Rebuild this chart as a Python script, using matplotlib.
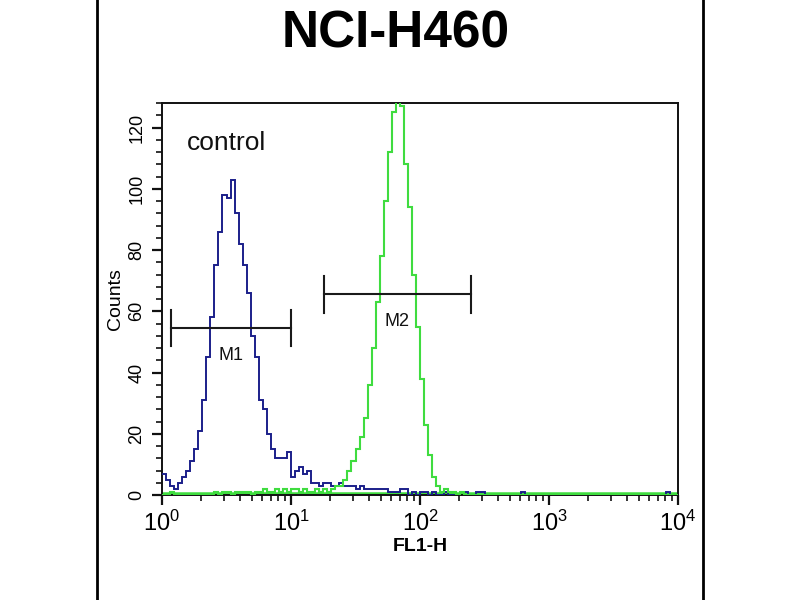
import numpy as np
import matplotlib
matplotlib.use("Agg")
import matplotlib.pyplot as plt
from matplotlib import font_manager
from matplotlib.lines import Line2D
from matplotlib.ticker import MultipleLocator, LogLocator, FixedLocator

# -----------------------
# Datos (histograma, 128 canales en 4 decadas)
# -----------------------
n_channels = 128
decades = 4

control_counts = [
    7, 5, 3, 2, 4, 6, 8, 11, 15, 21, 31, 45, 58, 75, 86, 98,
    97, 103, 92, 82, 75, 66, 52, 45, 31, 28, 20, 15, 12, 12, 12, 14,
    6, 8, 9, 7, 8, 4, 4, 3, 4, 4, 3, 3, 4, 3, 3, 3,
    2, 3, 2, 2, 2, 2, 2, 2, 1, 1, 1, 2, 2, 0, 1, 0,
    1, 1, 0, 1, 0, 0, 1, 0, 0, 0, 1, 1, 0, 0, 1, 1,
    0, 0, 0, 0, 0, 0, 0, 0, 0, 1, 0, 0, 0, 0, 0, 0,
    0, 0, 0, 0, 0, 0, 0, 0, 0, 0, 0, 0, 0, 0, 0, 0,
    0, 0, 0, 0, 0, 0, 0, 0, 0, 0, 0, 0, 0, 1, 0, 0,
]

sample_counts = [
    0, 0, 1, 0, 0, 0, 0, 0, 0, 0, 0, 0, 0, 1, 0, 1,
    1, 0, 1, 1, 1, 1, 0, 1, 1, 2, 1, 1, 2, 1, 2, 1,
    2, 2, 1, 2, 1, 1, 2, 1, 2, 1, 2, 3, 3, 5, 8, 11,
    15, 19, 25, 36, 48, 63, 78, 96, 112, 125, 131, 127, 108, 94, 72, 55,
    38, 23, 13, 6, 3, 1, 2, 1, 1, 0, 1, 0, 0, 0, 0, 0,
    0, 0, 0, 0, 0, 0, 0, 0, 0, 0, 0, 0, 0, 0, 0, 0,
    0, 0, 0, 0, 0, 0, 0, 0, 0, 0, 0, 0, 0, 0, 0, 0,
    0, 0, 0, 0, 0, 0, 0, 0, 0, 0, 0, 0, 0, 0, 0, 0,
]

# Marcadores M1 / M2: (nombre, x inicio, x fin, altura)
marker_names = ["M1", "M2"]
marker_start = [1.17, 18.0]
marker_end = [10.0, 248.0]
marker_level = [54.5, 65.5]

x_tick_exponents = [0, 1, 2, 3, 4]
y_ticks = [0, 20, 40, 60, 80, 100, 120]

# -----------------------
# Fuentes
# -----------------------
available = {f.name for f in font_manager.fontManager.ttflist}
narrow = "Liberation Sans Narrow" if "Liberation Sans Narrow" in available else "Liberation Sans"
plt.rcParams["font.family"] = ["Liberation Sans", "DejaVu Sans"]
plt.rcParams["mathtext.default"] = "regular"

# -----------------------
# Figura
# -----------------------
fig = plt.figure(figsize=(8, 6), dpi=100)
ax = fig.add_axes([0.2025, 0.175, 0.645, 0.6533])

# bordes del canal en escala log
edges = 10 ** (np.arange(n_channels + 1) * decades / n_channels)

ax.stairs(control_counts, edges, baseline=None, color="#1b1f8a", lw=1.4, zorder=3)
ax.stairs(sample_counts, edges, baseline=None, color="#3fdc3f", lw=1.5, zorder=4)
# linea verde sobre el eje (canales en cero)
ax.axhline(0.5, color="#3fdc3f", lw=1.8, zorder=2)

ax.set_xscale("log")
ax.set_xlim(1, 10 ** decades)
ax.set_ylim(0, 128)

# marcadores
for name, x0, x1, lvl in zip(marker_names, marker_start, marker_end, marker_level):
    ax.plot([x0, x1], [lvl, lvl], color="#1a1a1a", lw=1.5, zorder=5)
    ax.plot([x0, x0], [lvl - 6, lvl + 6], color="#1a1a1a", lw=1.5, zorder=5)
    ax.plot([x1, x1], [lvl - 6, lvl + 6], color="#1a1a1a", lw=1.5, zorder=5)
    xm = np.sqrt(x0 * x1)
    ax.text(xm, lvl - 9, name, ha="center", va="center", fontsize=13,
            family=narrow, color="#111111", zorder=6)

ax.text(1.55, 115, "control", fontsize=19, color="#111111", ha="left", va="center")

# ejes y ticks
ax.xaxis.set_major_locator(FixedLocator([10 ** e for e in x_tick_exponents]))
ax.xaxis.set_minor_locator(LogLocator(base=10, subs=np.arange(2, 10)))
ax.set_xticklabels([r"$10^{%d}$" % e for e in x_tick_exponents], family=narrow, fontsize=17)
ax.yaxis.set_major_locator(FixedLocator(y_ticks))
ax.yaxis.set_minor_locator(MultipleLocator(4))
ax.set_yticklabels([str(t) for t in y_ticks], rotation=90, va="center", fontsize=13, family=narrow)

ax.tick_params(axis="both", which="major", direction="out", length=7, width=1.6, color="#111111")
ax.tick_params(axis="both", which="minor", direction="out", length=4, width=1.2, color="#111111")
ax.tick_params(axis="x", which="major", pad=4)
ax.tick_params(axis="y", which="major", pad=5)

for sp in ax.spines.values():
    sp.set_linewidth(1.4)
    sp.set_color("#111111")

ax.set_ylabel("Counts", fontsize=14, family=narrow, labelpad=3)
ax.set_xlabel("FL1-H", fontsize=14, family=narrow, labelpad=2, fontweight="bold")

fig.text(0.494, 0.943, "NCI-H460", ha="center", va="center", fontsize=37, fontweight="bold")

# marco exterior
fig.add_artist(Line2D([0.121, 0.121], [0, 1], transform=fig.transFigure, color="black", lw=2))
fig.add_artist(Line2D([0.879, 0.879], [0, 1], transform=fig.transFigure, color="black", lw=2))

fig.savefig("out.png", dpi=100)
